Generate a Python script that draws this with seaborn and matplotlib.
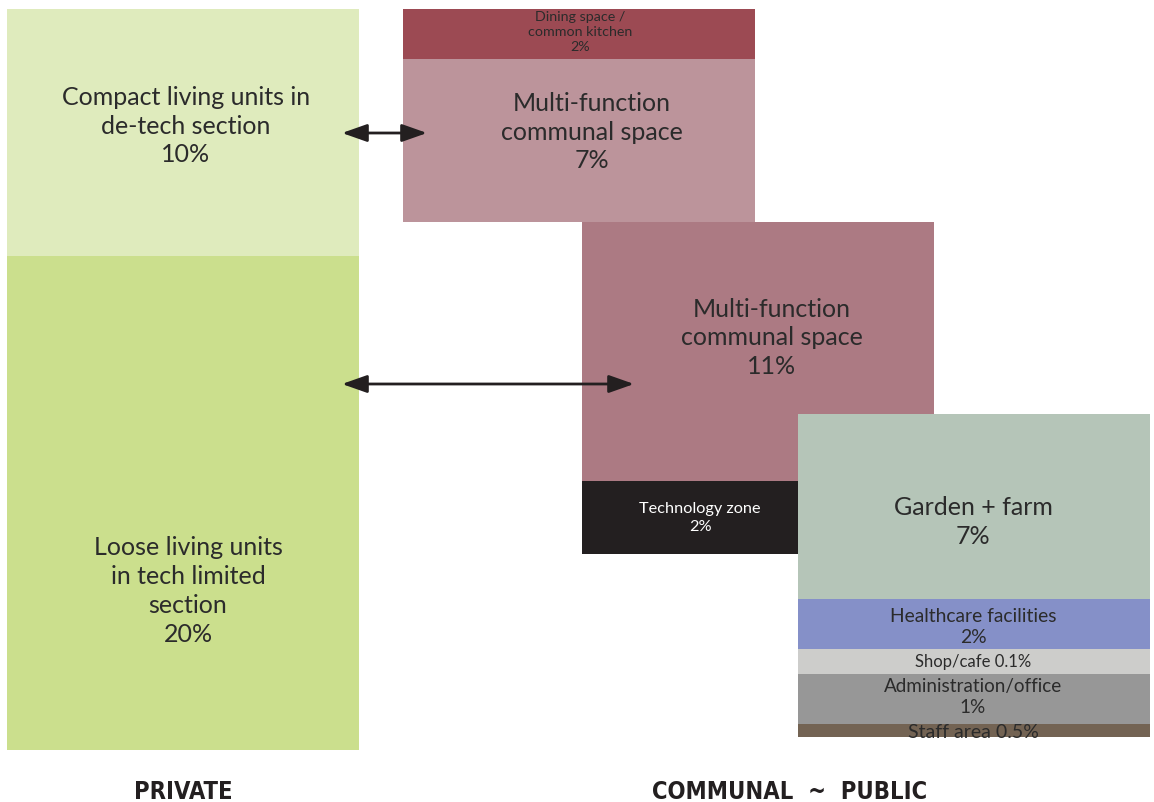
import matplotlib
matplotlib.use("Agg")
import matplotlib.pyplot as plt
import pandas as pd
import seaborn as sns

# block stacks, heights (pixel units of the original diagram)
groups = ["private", "private", "communal_a", "communal_a", "communal_b", "communal_b",
          "public", "public", "public", "public", "public"]
labels = [
    "Compact living units in\nde-tech section",
    "Loose living units\nin tech limited\nsection",
    "Dining space /\ncommon kitchen",
    "Multi-function\ncommunal space",
    "Multi-function\ncommunal space",
    "Technology zone",
    "Garden + farm",
    "Healthcare facilities",
    "Shop/cafe",
    "Administration/office",
    "Staff area",
]
shares = ["10%", "20%", "2%", "7%", "11%", "2%", "7%", "2%", "0.1%", "1%", "0.5%"]
heights = [247, 494, 50, 163, 259, 73, 185, 50, 25, 50, 13]

# layout of each stack: left edge, top edge, width
STACKS = {
    "private": (7, 10, 352),
    "communal_a": (403, 10, 352),
    "communal_b": (582, 223, 352),
    "public": (798, 415, 352),
}
COLORS = ["#DFEBBD", "#CBDF8D", "#9C4A53", "#BC949B", "#AC7A83", "#231F20",
          "#B5C5B8", "#8590C8", "#CDCDCB", "#979797", "#736353"]
TEXT_COLORS = ["#2B2B2B"] * 5 + ["#FFFFFF"] + ["#2B2B2B"] * 5
FONT_SIZES = [18, 18, 10.3, 18, 18, 11.7, 18, 13.9, 12, 13.6, 14]
# label anchor (x center, y center) in diagram pixels
LABEL_POS = [(186, 126), (188, 591), (580, 32), (592, 132), (772, 338), (700, 518),
             (973, 522), (973, 627), (973, 662), (973, 697), (973, 733)]
INLINE = {"Shop/cafe", "Staff area"}

sns.set_theme(style="white")
plt.rcParams["font.family"] = ["Lato", "DejaVu Sans"]

df = pd.DataFrame({"group": groups, "label": labels, "share": shares, "height": heights})
df["offset"] = df.groupby("group")["height"].cumsum() - df["height"]
df["left"] = df["group"].map(lambda g: STACKS[g][0])
df["top"] = df["group"].map(lambda g: STACKS[g][1]) + df["offset"]
df["width"] = df["group"].map(lambda g: STACKS[g][2])

fig = plt.figure(figsize=(11.54, 8.03), dpi=100)
ax = fig.add_axes([0, 0, 1, 1])
ax.set_xlim(0, 1154)
ax.set_ylim(803, 0)
ax.axis("off")

ax.bar(df["left"], df["height"], width=df["width"], bottom=df["top"],
       align="edge", color=COLORS, linewidth=0)

for i, row in df.iterrows():
    if row["label"] in INLINE:
        text = f"{row['label']} {row['share']}"
    else:
        text = f"{row['label']}\n{row['share']}"
    x, y = LABEL_POS[i]
    ax.text(x, y, text, ha="center", va="center", fontsize=FONT_SIZES[i],
            color=TEXT_COLORS[i], linespacing=1.3, zorder=5)

arrow = dict(arrowstyle="<|-|>,head_length=0.85,head_width=0.3", color="#231F20",
             lw=2.0, shrinkA=0, shrinkB=0, mutation_scale=18)
ax.annotate("", xy=(342, 134), xytext=(427, 134), arrowprops=arrow, zorder=6)
ax.annotate("", xy=(342, 385), xytext=(634, 385), arrowprops=arrow, zorder=6)

head_font = ["DejaVu Sans", "Liberation Sans Narrow"]
ax.text(183, 792, "PRIVATE", ha="center", va="center", fontsize=17,
        fontweight="bold", fontstretch="condensed", color="#231F20", family=head_font)
ax.text(790, 792, "COMMUNAL  ~  PUBLIC", ha="center", va="center", fontsize=17,
        fontweight="bold", fontstretch="condensed", color="#231F20", family=head_font)

fig.savefig("out.png", dpi=100, facecolor="white")
